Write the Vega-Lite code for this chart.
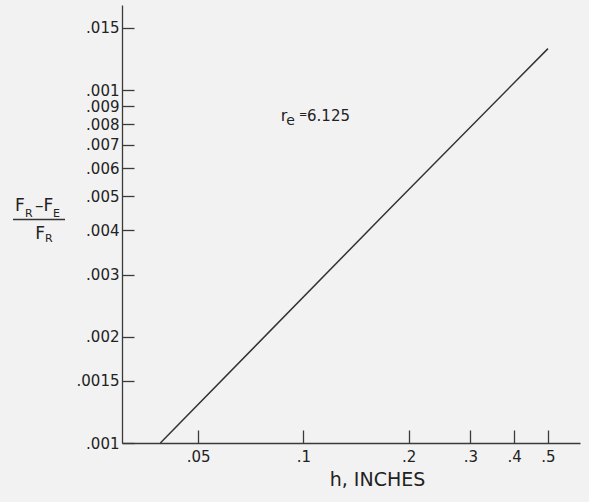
{
  "$schema": "https://vega.github.io/schema/vega-lite/v6.json",
  "width": 458,
  "height": 438,
  "autosize": {"type": "none"},
  "padding": {"left": 122, "top": 5, "right": 9, "bottom": 59},
  "background": "#f2f2f2",
  "config": {
    "view": {"stroke": null},
    "axis": {
      "grid": false,
      "domainColor": "#3a3a3a",
      "tickColor": "#3a3a3a",
      "domainWidth": 1.3,
      "tickWidth": 1.3,
      "labelColor": "#222222",
      "titleColor": "#222222",
      "labelFont": "DejaVu Sans",
      "titleFont": "DejaVu Sans",
      "labelOverlap": false,
      "labelBound": false,
      "labelFlush": false
    },
    "text": {"font": "DejaVu Sans", "color": "#222222"}
  },
  "layer": [
    {
      "data": {"values": [
        {"h": 0.039, "v": 0.001},
        {"h": 0.18, "v": 0.0047},
        {"h": 0.5, "v": 0.0131}
      ]},
      "mark": {"type": "line", "color": "#333333", "strokeWidth": 1.5},
      "encoding": {
        "x": {
          "field": "h", "type": "quantitative",
          "scale": {"type": "log", "domain": [0.0303, 0.6174], "nice": false},
          "axis": {
            "values": [0.05, 0.1, 0.2, 0.3, 0.4, 0.5],
            "labelExpr": "replace(format(datum.value, '~g'), '0.', '.')",
            "tickSize": -13,
            "labelPadding": 19,
            "labelFontSize": 15,
            "title": "h, INCHES",
            "titleFontSize": 19,
            "titleFontWeight": "normal",
            "titleX": 255,
            "titleY": 42,
            "titleAlign": "center",
            "titleBaseline": "alphabetic"
          }
        },
        "y": {
          "field": "v", "type": "quantitative",
          "scale": {"type": "log", "domain": [0.001, 0.01741], "nice": false},
          "axis": {
            "values": [0.001, 0.0015, 0.002, 0.003, 0.004, 0.005, 0.006, 0.007, 0.008, 0.009, 0.01, 0.015],
            "labelExpr": "datum.value == 0.01 ? '.001' : replace(format(datum.value, '.4~f'), '0.', '.')",
            "tickSize": -12,
            "labelPadding": 15,
            "labelFontSize": 15,
            "title": null
          }
        }
      }
    },
    {
      "data": {"values": [{}]},
      "mark": {"type": "text", "text": "F", "fontSize": 17, "align": "left", "baseline": "alphabetic", "dx": -107, "dy": -8},
      "encoding": {"x": {"datum": 0.0303, "type": "quantitative"}, "y": {"datum": 0.0043, "type": "quantitative"}}
    },
    {
      "data": {"values": [{}]},
      "mark": {"type": "text", "text": "R", "fontSize": 11, "align": "left", "baseline": "alphabetic", "dx": -97, "dy": -2.4},
      "encoding": {"x": {"datum": 0.0303, "type": "quantitative"}, "y": {"datum": 0.0043, "type": "quantitative"}}
    },
    {
      "data": {"values": [{}]},
      "mark": {"type": "text", "text": "–", "fontSize": 17, "align": "left", "baseline": "alphabetic", "dx": -87, "dy": -8},
      "encoding": {"x": {"datum": 0.0303, "type": "quantitative"}, "y": {"datum": 0.0043, "type": "quantitative"}}
    },
    {
      "data": {"values": [{}]},
      "mark": {"type": "text", "text": "F", "fontSize": 17, "align": "left", "baseline": "alphabetic", "dx": -78.5, "dy": -8},
      "encoding": {"x": {"datum": 0.0303, "type": "quantitative"}, "y": {"datum": 0.0043, "type": "quantitative"}}
    },
    {
      "data": {"values": [{}]},
      "mark": {"type": "text", "text": "E", "fontSize": 11, "align": "left", "baseline": "alphabetic", "dx": -69, "dy": -2.4},
      "encoding": {"x": {"datum": 0.0303, "type": "quantitative"}, "y": {"datum": 0.0043, "type": "quantitative"}}
    },
    {
      "data": {"values": [{}]},
      "mark": {"type": "rule", "color": "#333333", "strokeWidth": 1.5, "xOffset": -109, "x2Offset": -57},
      "encoding": {"x": {"datum": 0.0303, "type": "quantitative"}, "x2": {"datum": 0.0303}, "y": {"datum": 0.0043, "type": "quantitative"}}
    },
    {
      "data": {"values": [{}]},
      "mark": {"type": "text", "text": "F", "fontSize": 17, "align": "left", "baseline": "alphabetic", "dx": -86.7, "dy": 19.6},
      "encoding": {"x": {"datum": 0.0303, "type": "quantitative"}, "y": {"datum": 0.0043, "type": "quantitative"}}
    },
    {
      "data": {"values": [{}]},
      "mark": {"type": "text", "text": "R", "fontSize": 11, "align": "left", "baseline": "alphabetic", "dx": -77, "dy": 22.6},
      "encoding": {"x": {"datum": 0.0303, "type": "quantitative"}, "y": {"datum": 0.0043, "type": "quantitative"}}
    },
    {
      "data": {"values": [{}]},
      "mark": {"type": "text", "text": "r", "fontSize": 16, "align": "left", "baseline": "alphabetic", "dx": -1.5, "dy": 0.6},
      "encoding": {"x": {"datum": 0.087, "type": "quantitative"}, "y": {"datum": 0.0082, "type": "quantitative"}}
    },
    {
      "data": {"values": [{}]},
      "mark": {"type": "text", "text": "e", "fontSize": 14, "align": "left", "baseline": "alphabetic", "dx": 4, "dy": 4.6},
      "encoding": {"x": {"datum": 0.087, "type": "quantitative"}, "y": {"datum": 0.0082, "type": "quantitative"}}
    },
    {
      "data": {"values": [{}]},
      "mark": {"type": "text", "text": "=", "fontSize": 10, "align": "left", "baseline": "alphabetic", "dx": 16.8, "dy": -2.1},
      "encoding": {"x": {"datum": 0.087, "type": "quantitative"}, "y": {"datum": 0.0082, "type": "quantitative"}}
    },
    {
      "data": {"values": [{}]},
      "mark": {"type": "text", "text": "6.125", "fontSize": 15, "align": "left", "baseline": "alphabetic", "dx": 24.8, "dy": 0.6},
      "encoding": {"x": {"datum": 0.087, "type": "quantitative"}, "y": {"datum": 0.0082, "type": "quantitative"}}
    }
  ]
}
